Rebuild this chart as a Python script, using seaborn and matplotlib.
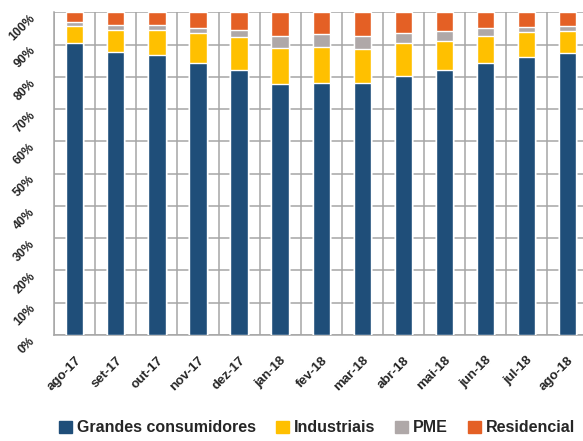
import numpy as np
import pandas as pd
import seaborn as sns
import matplotlib.pyplot as plt
from matplotlib.patches import Patch

meses = ["ago-17", "set-17", "out-17", "nov-17", "dez-17", "jan-18", "fev-18",
         "mar-18", "abr-18", "mai-18", "jun-18", "jul-18", "ago-18"]
grandes = [90.4, 87.7, 86.9, 84.2, 82.2, 77.7, 78.1, 78.1, 80.3, 82.2, 84.2, 86.1, 87.3]
industriais = [5.4, 6.9, 7.6, 9.3, 10.1, 11.1, 11.1, 10.6, 10.1, 8.9, 8.5, 7.8, 6.9]
pme = [1.2, 1.6, 1.6, 1.5, 2.3, 3.9, 4.0, 4.0, 3.1, 3.1, 2.3, 1.5, 1.6]
residencial = [3.0, 3.8, 3.9, 5.0, 5.4, 7.3, 6.8, 7.3, 6.5, 5.8, 5.0, 4.6, 4.2]

series = ["Grandes consumidores", "Industriais", "PME", "Residencial"]
cores = ["#1F4E79", "#FFC000", "#AFA8A8", "#E46025"]

df = pd.DataFrame({"mes": meses, "Grandes consumidores": grandes,
                   "Industriais": industriais, "PME": pme, "Residencial": residencial})
acum = df[series].cumsum(axis=1)

sns.set_style("white")
plt.rcParams['font.family'] = ['Liberation Sans', 'DejaVu Sans']
plt.rcParams['font.weight'] = 'bold'

fig = plt.figure(figsize=(5.83, 4.41), dpi=100)
ax = fig.add_axes([0.0931, 0.2404, 0.9155, 0.7317])

# barras empilhadas: desenhar os totais acumulados do topo para baixo
for serie, cor in zip(series[::-1], cores[::-1]):
    sns.barplot(x=df["mes"], y=acum[serie], color=cor, width=0.42,
                saturation=1, ax=ax, zorder=3)

ax.set_ylim(0, 100)
ax.set_xlim(-0.5, len(meses) - 0.5)
ax.set_yticks(np.arange(0, 101, 10))
ax.set_yticklabels([f"{v}%" for v in range(0, 101, 10)])
ax.set_xticks(np.arange(-0.5, len(meses), 1), minor=True)
ax.grid(False)
ax.grid(True, axis="y", which="major", color="#A6A6A6", linewidth=1.1, zorder=0)
ax.grid(True, axis="x", which="minor", color="#A6A6A6", linewidth=1.1, zorder=0)
ax.tick_params(length=0, which="both")
ax.tick_params(axis="y", pad=12)
ax.tick_params(axis="x", pad=14)
ax.set_xlabel("")
ax.set_ylabel("")
for s in ["top", "right"]:
    ax.spines[s].set_visible(False)
for s in ["left", "bottom"]:
    ax.spines[s].set_color("#A6A6A6")
    ax.spines[s].set_linewidth(1.1)

plt.setp(ax.get_yticklabels(), rotation=45, fontsize=8.8, fontweight="bold", va="top")
plt.setp(ax.get_xticklabels(), rotation=45, ha="right", rotation_mode="anchor",
         fontsize=9.5, fontweight="bold")

handles = [Patch(color=c, label=s) for s, c in zip(series, cores)]
fig.legend(handles=handles, loc="center", bbox_to_anchor=(0.544, 0.03), ncol=4,
           frameon=False, handlelength=0.8, handleheight=0.8, handletextpad=0.3,
           columnspacing=1.27, prop={"size": 11.5, "weight": "bold"})

fig.savefig("out.png", dpi=100)
